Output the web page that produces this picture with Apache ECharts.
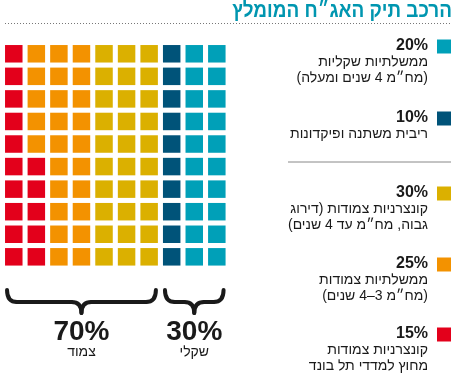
<!DOCTYPE html>
<html>
<head>
<meta charset="utf-8">
<script src="https://cdn.jsdelivr.net/npm/echarts@6/dist/echarts.min.js"></script>
<style>
html,body{margin:0;padding:0;background:#fff;}
#c{width:458px;height:373px;}
</style>
</head>
<body>
<div id="c" dir="rtl"></div>
<script>
// Legend order (top to bottom)
const names = [
  'ממשלתיות שקליות\n(מח״מ 4 שנים ומעלה)',
  'ריבית משתנה ופיקדונות',
  'קונצרניות צמודות (דירוג\nגבוה, מח״מ עד 4 שנים)',
  'ממשלתיות צמודות\n(מח״מ 3–4 שנים)',
  'קונצרניות צמודות\nמחוץ למדדי תל בונד'
];
const values = [20, 10, 30, 25, 15];
const colors = ['#00a0b8', '#005379', '#dbb000', '#f39200', '#e3001b'];
const groupOf = ['שקלי', 'שקלי', 'צמוד', 'צמוד', 'צמוד'];
const groupNames = ['שקלי', 'צמוד'];
const title = 'הרכב תיק האג״ח המומלץ';

// Waffle: fill columns left-to-right, bottom-to-top, in reverse legend order
const fillOrder = [4, 3, 2, 1, 0];
const cells = names.map(() => []);
let k = 0;
fillOrder.forEach(i => {
  for (let n = 0; n < values[i]; n++, k++) {
    cells[i].push([Math.floor(k / 10), k % 10]);
  }
});

const chart = echarts.init(document.getElementById('c'));
const FONT = '"Liberation Sans", "DejaVu Sans", sans-serif';

const series = names.map((nm, i) => ({
  type: 'scatter',
  name: nm,
  symbol: 'rect',
  symbolSize: 17.5,
  itemStyle: { color: colors[i], opacity: 1 },
  data: cells[i],
  silent: true
}));

chart.setOption({
  animation: false,
  backgroundColor: '#fff',
  grid: { left: 2.5, top: 42.5, width: 225.6, height: 225.6 },
  xAxis: { type: 'value', min: -0.5, max: 9.5, show: false },
  yAxis: { type: 'value', min: -0.5, max: 9.5, show: false },
  series: series
});

// Graphic: title, legend, braces and totals
const g = [];
g.push({ type: 'text', x: 452, y: 11, scaleX: 0.9, style: { text: title, font: 'bold 21px ' + FONT, fill: '#0096b0', textAlign: 'right', textVerticalAlign: 'middle' } });
g.push({ type: 'line', shape: { x1: 5, y1: 23.5, x2: 452, y2: 23.5 }, style: { stroke: '#777', lineWidth: 1, lineDash: [1, 2] } });

const itemY = [46, 118, 193, 264, 334];
names.forEach((nm, i) => {
  const y = itemY[i];
  g.push({ type: 'rect', shape: { x: 437, y: y - 6.5, width: 14, height: 14 }, style: { fill: colors[i] } });
  g.push({ type: 'text', x: 428, y: y, style: { text: values[i] + '%', font: 'bold 16px ' + FONT, fill: '#1a1a1a', textAlign: 'right', textVerticalAlign: 'middle' } });
  g.push({ type: 'text', x: 428, y: y + 8.5, style: { text: nm, font: '14px ' + FONT, fill: '#1a1a1a', textAlign: 'right', textVerticalAlign: 'top', lineHeight: 15.5 } });
});
g.push({ type: 'line', shape: { x1: 288, y1: 162, x2: 451, y2: 162 }, style: { stroke: '#888', lineWidth: 1 } });

// Braces under the waffle, spanning the columns of each group
const half = 17.5 / 2;
function colPx(c) { return chart.convertToPixel({ gridIndex: 0 }, [c, 0])[0]; }
const braceStyle = { stroke: '#1a1a1a', lineWidth: 4, fill: null, lineCap: 'round' };
function brace(x0, x1) {
  const yt = 290, ym = 302, yb = 313, xm = (x0 + x1) / 2, r = 10;
  const q = (ax, ay, cx, cy, bx, by) => ({ type: 'bezierCurve', shape: { x1: ax, y1: ay, cpx1: cx, cpy1: cy, x2: bx, y2: by }, style: braceStyle });
  const l = (ax, ay, bx, by) => ({ type: 'line', shape: { x1: ax, y1: ay, x2: bx, y2: by }, style: braceStyle });
  return [
    q(x0, yt, x0, ym, x0 + r, ym),
    l(x0 + r, ym, xm - r, ym),
    q(xm - r, ym, xm, ym, xm, yb),
    q(xm, yb, xm, ym, xm + r, ym),
    l(xm + r, ym, x1 - r, ym),
    q(x1 - r, ym, x1, ym, x1, yt)
  ];
}
// columns per group, from data
const colsFor = {};
names.forEach((nm, i) => {
  const gname = groupOf[i];
  cells[i].forEach(c => {
    colsFor[gname] = colsFor[gname] || [Infinity, -Infinity];
    colsFor[gname][0] = Math.min(colsFor[gname][0], c[0]);
    colsFor[gname][1] = Math.max(colsFor[gname][1], c[0]);
  });
});
groupNames.forEach(gname => {
  const total = values.reduce((s, v, i) => s + (groupOf[i] === gname ? v : 0), 0);
  const x0 = colPx(colsFor[gname][0]) - half, x1 = colPx(colsFor[gname][1]) + half;
  const xm = (x0 + x1) / 2;
  brace(x0 + 2, x1 - 2).forEach(e => g.push(e));
  g.push({ type: 'text', x: xm, y: 332, style: { text: total + '%', font: 'bold 28px ' + FONT, fill: '#1a1a1a', textAlign: 'center', textVerticalAlign: 'middle' } });
  g.push({ type: 'text', x: xm, y: 352, style: { text: gname, font: '14px ' + FONT, fill: '#1a1a1a', textAlign: 'center', textVerticalAlign: 'middle' } });
});

chart.setOption({ graphic: g });
</script>
</body>
</html>
